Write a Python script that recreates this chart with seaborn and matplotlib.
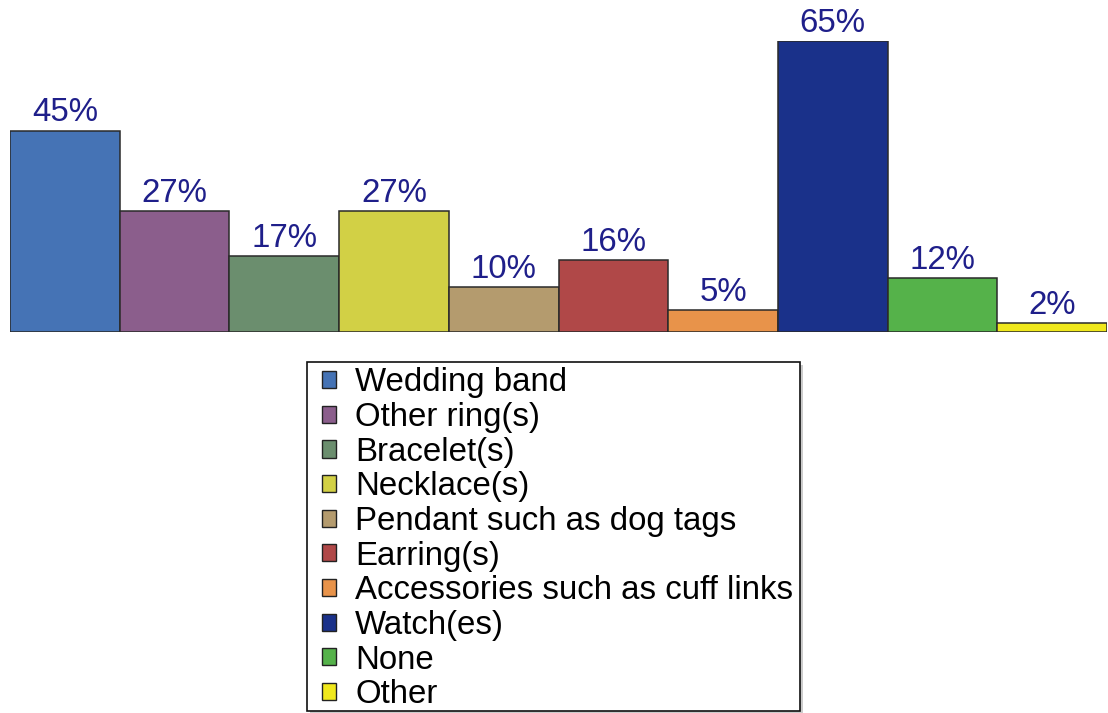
import matplotlib
matplotlib.use("Agg")
import matplotlib.pyplot as plt
from matplotlib.patches import Patch, Rectangle
import seaborn as sns
import pandas as pd

categories = [
    "Wedding band",
    "Other ring(s)",
    "Bracelet(s)",
    "Necklace(s)",
    "Pendant such as dog tags",
    "Earring(s)",
    "Accessories such as cuff links",
    "Watch(es)",
    "None",
    "Other",
]
percentages = [45, 27, 17, 27, 10, 16, 5, 65, 12, 2]
colors = [
    "#4573B5", "#8B5E8C", "#6B8E6E", "#D2D045", "#B49B6E",
    "#B04848", "#E8934A", "#1A318A", "#55B24A", "#F0E81C",
]

df = pd.DataFrame({"item": categories, "pct": percentages})
palette = dict(zip(categories, colors))

sns.set_style("white")
plt.rcParams["font.family"] = ["Liberation Sans", "DejaVu Sans"]
plt.rcParams["text.color"] = "black"

fig = plt.figure(figsize=(11.08, 7.13), dpi=100)
W, H = 1108, 713
ax = fig.add_axes([10 / W, 1 - 332 / H, (1107 - 10) / W, (332 - 41) / H])

sns.barplot(data=df, x="item", y="pct", hue="item", palette=palette,
            saturation=1, width=1.0, dodge=False, legend=False, ax=ax,
            edgecolor="#2a2a2a", linewidth=1.1)

for cont in ax.containers:
    ax.bar_label(cont, labels=[f"{v:.0f}%" for v in cont.datavalues],
                 padding=1.5, fontsize=23.8, color="#1f1f8a")

ax.set_xlim(-0.5, len(categories) - 0.5)
ax.set_ylim(0, 65)
ax.set_axis_off()

# legend box with a soft drop shadow
box_x0, box_y0, box_x1, box_y1 = 307, 362, 800, 711
fig.patches.append(Rectangle(((box_x0 + 3) / W, 1 - (box_y1 + 3) / H),
                             (box_x1 - box_x0) / W, (box_y1 - box_y0) / H,
                             transform=fig.transFigure, facecolor="#cccccc",
                             edgecolor="none", zorder=0))
fig.patches.append(Rectangle((box_x0 / W, 1 - box_y1 / H),
                             (box_x1 - box_x0) / W, (box_y1 - box_y0) / H,
                             transform=fig.transFigure, facecolor="white",
                             edgecolor="#111111", linewidth=1.2, zorder=1))

handles = [Patch(facecolor=c, edgecolor="#222222", linewidth=1.0) for c in colors]
leg = fig.legend(handles, categories, loc="upper left",
                 bbox_to_anchor=(322 / W, 1 - 367.5 / H), borderaxespad=0,
                 fontsize=23.8, frameon=False,
                 handlelength=0.42, handleheight=0.42,
                 handletextpad=0.58, labelspacing=0.11, borderpad=0)
leg.set_zorder(2)
for t in leg.get_texts():
    t.set_color("black")

fig.savefig("out.png", dpi=100, facecolor="white")
